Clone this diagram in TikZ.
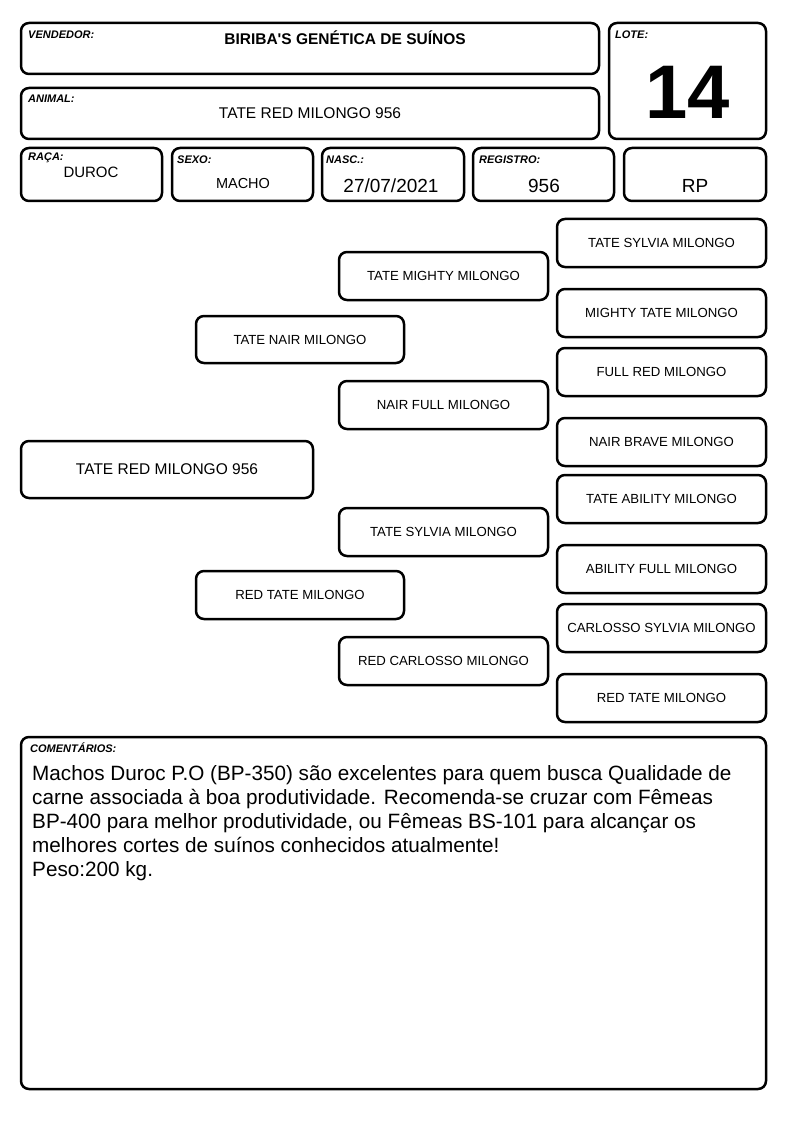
\documentclass[tikz,border=0pt]{standalone}
\usepackage{fontspec}
\setmainfont{Liberation Sans}
\newfontfamily\plainarial{Liberation Sans}
\begin{document}
\begin{tikzpicture}[x=1pt,y=-1pt,
  frame/.style={draw, line width=2.5pt, rounded corners=8pt, inner sep=0pt},
  lbl/.style={anchor=west, inner sep=0pt, font=\fontsize{11}{13}\selectfont\bfseries\itshape},
  ped/.style={frame, font=\fontsize{13.2}{15}\selectfont},
  val/.style={inner sep=0pt, font=\fontsize{15}{17}\selectfont},
  big/.style={inner sep=0pt, font=\fontsize{19}{22}\selectfont}]
\useasboundingbox (0,0) rectangle (794,1123);
% header
\node[frame, minimum width=578pt, minimum height=51pt] (vend) at (310,48.5) {};
\node[lbl] (vendl) at (28,35) {VENDEDOR:};
\node[inner sep=0pt, font=\plainarial\fontsize{15.5}{18}\selectfont\bfseries] (vendv) at (345,38) {BIRIBA'S GENÉTICA DE SUÍNOS};
\node[frame, minimum width=578pt, minimum height=51pt] (anim) at (310,113.5) {};
\node[lbl] (animl) at (28,99) {ANIMAL:};
\node[inner sep=0pt, font=\fontsize{15.5}{18}\selectfont] (animv) at (310,113) {TATE RED MILONGO 956};
\node[frame, minimum width=157pt, minimum height=116pt] (lote) at (687.5,81) {};
\node[lbl] (lotel) at (615,35) {LOTE:};
\node[inner sep=0pt, font=\fontsize{76}{78}\selectfont\bfseries] (lotev) at (688,92) {14};
% info row
\node[frame, minimum width=141pt, minimum height=53pt] (raca) at (91.5,174.5) {};
\node[lbl] (racal) at (28,158) {RAÇA:};
\node[val] (racav) at (91,172) {DUROC};
\node[frame, minimum width=141pt, minimum height=53pt] (sexo) at (242.5,174.5) {};
\node[lbl] (sexol) at (177,160) {SEXO:};
\node[val, font=\fontsize{14.5}{17}\selectfont] (sexov) at (243,184) {MACHO};
\node[frame, minimum width=142pt, minimum height=53pt] (nasc) at (393,174.5) {};
\node[lbl] (nascl) at (326,160) {NASC.:};
\node[big] (nascv) at (391,186) {27/07/2021};
\node[frame, minimum width=141pt, minimum height=53pt] (reg) at (543.5,174.5) {};
\node[lbl] (regl) at (479,160) {REGISTRO:};
\node[big] (regv) at (544,186) {956};
\node[frame, minimum width=142pt, minimum height=53pt] (rp) at (695,174.5) {};
\node[big] (rpv) at (695,186) {RP};
% pedigree
\node[frame, minimum width=292pt, minimum height=57pt, font=\fontsize{15.5}{18}\selectfont] (p0) at (167,469.5) {TATE RED MILONGO 956};
\node[ped, minimum width=208pt, minimum height=47pt] (p1) at (300,339.5) {TATE NAIR MILONGO};
\node[ped, minimum width=208pt, minimum height=48pt] (p2) at (300,595) {RED TATE MILONGO};
\node[ped, minimum width=209pt, minimum height=48pt] (p11) at (443.5,276) {TATE MIGHTY MILONGO};
\node[ped, minimum width=209pt, minimum height=48pt] (p12) at (443.5,405) {NAIR FULL MILONGO};
\node[ped, minimum width=209pt, minimum height=48pt] (p21) at (443.5,532) {TATE SYLVIA MILONGO};
\node[ped, minimum width=209pt, minimum height=48pt] (p22) at (443.5,661) {RED CARLOSSO MILONGO};
\node[ped, minimum width=209pt, minimum height=48pt] (p111) at (661.5,243) {TATE SYLVIA MILONGO};
\node[ped, minimum width=209pt, minimum height=48pt] (p112) at (661.5,313) {MIGHTY TATE MILONGO};
\node[ped, minimum width=209pt, minimum height=48pt] (p121) at (661.5,372) {FULL RED MILONGO};
\node[ped, minimum width=209pt, minimum height=48pt] (p122) at (661.5,442) {NAIR BRAVE MILONGO};
\node[ped, minimum width=209pt, minimum height=48pt] (p211) at (661.5,499) {TATE ABILITY MILONGO};
\node[ped, minimum width=209pt, minimum height=48pt] (p212) at (661.5,569) {ABILITY FULL MILONGO};
\node[ped, minimum width=209pt, minimum height=48pt] (p221) at (661.5,628) {CARLOSSO SYLVIA MILONGO};
\node[ped, minimum width=209pt, minimum height=48pt] (p222) at (661.5,698) {RED TATE MILONGO};
% comments
\node[frame, minimum width=745pt, minimum height=352pt] (com) at (393.5,913) {};
\node[lbl] (coml) at (30,748) {COMENTÁRIOS:};
\node[anchor=north west, inner sep=0pt, align=left, font=\fontsize{20.7}{24}\selectfont] (comv) at (32,765) {Machos Duroc P.O (BP-350) são excelentes para quem busca Qualidade de\\carne associada à boa produtividade. Recomenda-se cruzar com Fêmeas\\BP-400 para melhor produtividade, ou Fêmeas BS-101 para alcançar os\\melhores cortes de suínos conhecidos atualmente!\\Peso:200 kg.};
\end{tikzpicture}
\end{document}
